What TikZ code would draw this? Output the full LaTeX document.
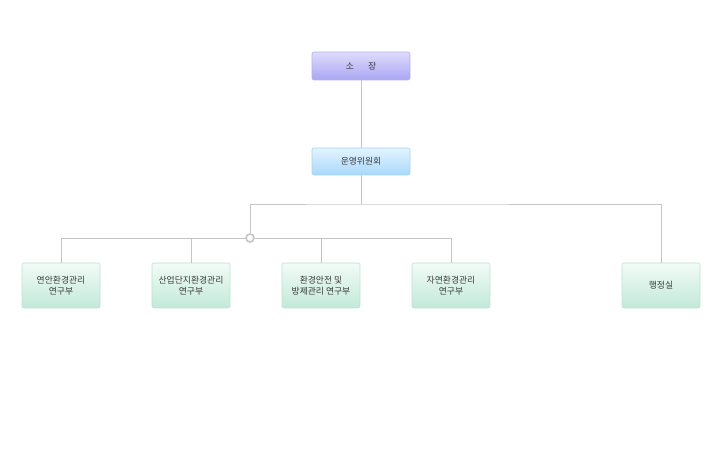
\documentclass[tikz,border=0pt]{standalone}
\usepackage{fontspec}
\newfontfamily\korfont{Noto Sans CJK KR}
\definecolor{linegray}{HTML}{C4C4C4}
\definecolor{txtgray}{HTML}{3A3A3A}
\definecolor{headtop}{HTML}{DEDBFC}
\definecolor{headbot}{HTML}{ABA6F2}
\definecolor{headline}{HTML}{B5AFF2}
\definecolor{boardtop}{HTML}{E3F4FF}
\definecolor{boardbot}{HTML}{A9D8FA}
\definecolor{boardline}{HTML}{A8D4F4}
\definecolor{depttop}{HTML}{F2FBF7}
\definecolor{deptbot}{HTML}{C2E9D9}
\definecolor{deptline}{HTML}{BCE2D2}
\begin{document}
\begin{tikzpicture}[x=1pt, y=-1pt, font=\korfont\fontsize{8.8}{11.5}\selectfont, text=txtgray,
    orgbox/.style={draw, rounded corners=2pt, line width=0.6pt, align=center, inner sep=0pt},
    headbox/.style={orgbox, minimum width=98pt, minimum height=28pt, draw=headline, top color=headtop, bottom color=headbot},
    boardbox/.style={orgbox, minimum width=98pt, minimum height=27pt, draw=boardline, top color=boardtop, bottom color=boardbot},
    deptbox/.style={orgbox, minimum width=78pt, minimum height=45pt, draw=deptline, top color=depttop, bottom color=deptbot},
    link/.style={linegray, line width=0.8pt}]

    \useasboundingbox (0,0) rectangle (720,470);

    % --- Vertice ---
    \node[headbox] (chief) at (361,66) {소\hspace{1.6em}장};
    \node[boardbox] (board) at (361,161.5) {운영위원회};

    % --- Reparti ---
    \node[deptbox] (coast) at (61,285.5) {연안환경관리\\연구부};
    \node[deptbox] (indus) at (191,285.5) {산업단지환경관리\\연구부};
    \node[deptbox] (safety) at (321,285.5) {환경안전 및\\방제관리 연구부};
    \node[deptbox] (nature) at (451,285.5) {자연환경관리\\연구부};
    \node[deptbox] (admin) at (661,285.5) {행정실};

    % --- Punti di snodo ---
    \coordinate (split) at (361,204);
    \coordinate (left) at (250,204);
    \node[circle, draw=linegray, line width=1.6pt, fill=white, inner sep=0pt, minimum size=8pt] (hub) at (250,238) {};

    % --- Collegamenti ---
    \draw[link] (chief) -- (board);
    \draw[link] (board) -- (split);
    \draw[link] (left) -- (split) -| (admin);
    \draw[link] (left) -- (hub);
    \draw[link] (hub.west) -| (coast);
    \draw[link] (hub.west) -| (indus);
    \draw[link] (hub.east) -| (safety);
    \draw[link] (hub.east) -| (nature);

\end{tikzpicture}
\end{document}
